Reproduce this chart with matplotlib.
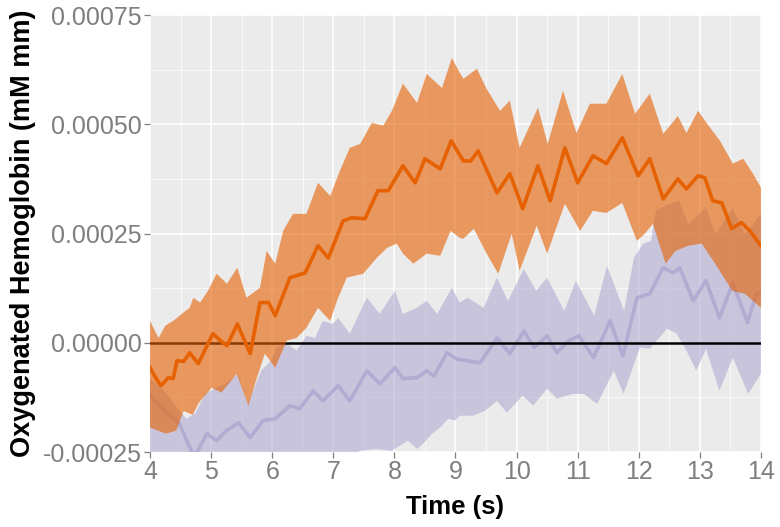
"""Oxygenated hemoglobin time course: two conditions, mean with ribbon."""

import numpy as np
import matplotlib
matplotlib.use("Agg")
import matplotlib.pyplot as plt
from matplotlib.ticker import MultipleLocator

# DATA

# orange condition: mean line
orange_t = [4.00, 4.10, 4.18, 4.30, 4.38, 4.44, 4.55, 4.65, 4.79, 5.03, 5.15,
            5.26, 5.43, 5.64, 5.80, 5.94, 6.05, 6.29, 6.54, 6.75, 6.92, 7.16,
            7.30, 7.52, 7.73, 7.90, 8.14, 8.34, 8.50, 8.75, 8.93, 9.13, 9.25,
            9.37, 9.68, 9.89, 10.10, 10.35, 10.55, 10.79, 11.00, 11.25, 11.47,
            11.73, 11.99, 12.18, 12.40, 12.64, 12.78, 12.97, 13.08, 13.21,
            13.36, 13.52, 13.68, 13.82, 14.00]
orange_mean = [-0.000057, -0.000082, -0.000098, -0.000080, -0.000082,
               -0.000041, -0.000043, -0.000023, -0.000048, 0.000021, 0.000005,
               -0.000007, 0.000043, -0.000025, 0.000092, 0.000092, 0.000062,
               0.000149, 0.000160, 0.000222, 0.000194, 0.000279, 0.000286,
               0.000284, 0.000348, 0.000348, 0.000405, 0.000366, 0.000421,
               0.000398, 0.000462, 0.000416, 0.000416, 0.000439, 0.000343,
               0.000387, 0.000307, 0.000405, 0.000325, 0.000446, 0.000366,
               0.000428, 0.000410, 0.000469, 0.000382, 0.000421, 0.000329,
               0.000375, 0.000352, 0.000382, 0.000378, 0.000325, 0.000320,
               0.000261, 0.000275, 0.000256, 0.000222]

# orange condition: ribbon upper edge
orange_up_t = [4.00, 4.14, 4.25, 4.38, 4.52, 4.65, 4.71, 4.82, 4.95, 5.09, 5.26,
               5.43, 5.58, 5.80, 5.91, 6.05, 6.18, 6.34, 6.56, 6.75, 6.95, 7.11,
               7.27, 7.44, 7.63, 7.82, 7.96, 8.14, 8.37, 8.53, 8.78, 8.94, 9.07,
               9.13, 9.35, 9.51, 9.73, 9.89, 10.05, 10.35, 10.51, 10.76, 10.98,
               11.20, 11.47, 11.73, 11.94, 12.18, 12.40, 12.64, 12.78, 12.97,
               13.12, 13.33, 13.54, 13.71, 13.87, 14.00]
orange_up = [0.000050, 0.000011, 0.000039, 0.000050, 0.000066, 0.000080,
             0.000103, 0.000092, 0.000119, 0.000158, 0.000135, 0.000172,
             0.000103, 0.000126, 0.000210, 0.000181, 0.000256, 0.000295,
             0.000295, 0.000366, 0.000336, 0.000394, 0.000446, 0.000455,
             0.000503, 0.000497, 0.000531, 0.000593, 0.000549, 0.000615,
             0.000583, 0.000652, 0.000618, 0.000604, 0.000627, 0.000581,
             0.000531, 0.000554, 0.000446, 0.000538, 0.000455, 0.000577,
             0.000480, 0.000547, 0.000547, 0.000615, 0.000524, 0.000570,
             0.000478, 0.000519, 0.000480, 0.000531, 0.000501, 0.000462,
             0.000410, 0.000421, 0.000387, 0.000355]

# orange condition: ribbon lower edge
orange_lo_t = [4.00, 4.26, 4.43, 4.55, 4.70, 4.80, 5.01, 5.17, 5.42, 5.61, 5.75,
               5.88, 6.05, 6.24, 6.40, 6.56, 6.75, 6.95, 7.06, 7.22, 7.49, 7.71,
               7.88, 8.04, 8.14, 8.31, 8.53, 8.75, 8.92, 9.07, 9.13, 9.30, 9.51,
               9.70, 9.92, 10.05, 10.33, 10.50, 10.79, 11.04, 11.25, 11.47,
               11.73, 11.97, 12.10, 12.23, 12.44, 12.60, 12.81, 13.03, 13.25,
               13.53, 13.74, 14.00]
orange_lo = [-0.000194, -0.000208, -0.000201, -0.000156, -0.000165, -0.000137,
             -0.000103, -0.000114, -0.000071, -0.000144, -0.000080, -0.000025,
             -0.000057, 0.000005, 0.000011, 0.000034, 0.000080, 0.000050,
             0.000096, 0.000149, 0.000158, 0.000194, 0.000217, 0.000227,
             0.000204, 0.000181, 0.000204, 0.000199, 0.000256, 0.000240,
             0.000238, 0.000261, 0.000204, 0.000158, 0.000249, 0.000165,
             0.000268, 0.000204, 0.000318, 0.000256, 0.000302, 0.000297,
             0.000320, 0.000233, 0.000250, 0.000272, 0.000181, 0.000210,
             0.000222, 0.000227, 0.000181, 0.000119, 0.000112, 0.000080]

# purple condition: mean line
purple_t = [4.00, 4.25, 4.48, 4.60, 4.72, 4.80, 4.93, 5.09, 5.25, 5.45, 5.64,
            5.85, 6.05, 6.29, 6.45, 6.67, 6.83, 7.08, 7.27, 7.55, 7.76, 8.01,
            8.14, 8.37, 8.53, 8.65, 8.86, 9.02, 9.18, 9.40, 9.68, 9.89, 10.12,
            10.29, 10.50, 10.66, 10.85, 11.02, 11.26, 11.53, 11.74, 11.97,
            12.18, 12.40, 12.56, 12.67, 12.89, 13.10, 13.32, 13.54, 13.78,
            13.92, 14.00]
purple_mean = [-0.000121, -0.000156, -0.000185, -0.000224, -0.000259,
               -0.000243, -0.000208, -0.000224, -0.000201, -0.000183,
               -0.000217, -0.000178, -0.000174, -0.000144, -0.000151,
               -0.000110, -0.000133, -0.000098, -0.000133, -0.000064,
               -0.000094, -0.000057, -0.000082, -0.000080, -0.000064,
               -0.000076, -0.000023, -0.000037, -0.000041, -0.000046,
               0.000011, -0.000025, 0.000027, -0.000011, 0.000016, -0.000023,
               0.000005, 0.000016, -0.000034, 0.000050, -0.000030, 0.000103,
               0.000112, 0.000172, 0.000160, 0.000172, 0.000096, 0.000142,
               0.000057, 0.000137, 0.000046, 0.000112, 0.000114]

# purple condition: ribbon upper edge
purple_up_t = [4.00, 4.15, 4.30, 4.45, 4.60, 4.75, 4.90, 5.05, 5.23, 5.44, 5.60,
               5.82, 5.98, 6.07, 6.24, 6.40, 6.56, 6.70, 6.83, 6.99, 7.08, 7.27,
               7.55, 7.76, 8.01, 8.14, 8.37, 8.53, 8.70, 8.94, 9.07, 9.20, 9.46,
               9.68, 9.86, 10.12, 10.32, 10.50, 10.78, 10.97, 11.27, 11.48,
               11.76, 11.92, 12.07, 12.20, 12.28, 12.50, 12.66, 12.81, 13.10,
               13.26, 13.53, 13.74, 14.00]
purple_up = [-0.000082, -0.000098, -0.000121, -0.000151, -0.000174, -0.000160,
             -0.000117, -0.000105, -0.000094, -0.000071, -0.000140, -0.000064,
             -0.000041, -0.000011, -0.000002, -0.000018, 0.000016, 0.000011,
             0.000050, 0.000043, 0.000057, 0.000021, 0.000103, 0.000066,
             0.000119, 0.000066, 0.000080, 0.000096, 0.000066, 0.000126,
             0.000092, 0.000103, 0.000080, 0.000149, 0.000096, 0.000169,
             0.000119, 0.000149, 0.000073, 0.000142, 0.000062, 0.000176,
             0.000073, 0.000194, 0.000227, 0.000233, 0.000302, 0.000318,
             0.000325, 0.000272, 0.000309, 0.000249, 0.000309, 0.000249,
             0.000295]

# purple condition: ribbon lower edge (runs below the axis at the start)
purple_lo_t = [4.00, 4.50, 5.50, 6.50, 7.20, 7.44, 7.70, 7.96, 8.22, 8.37, 8.47,
               8.62, 8.75, 8.88, 8.99, 9.07, 9.29, 9.48, 9.68, 9.84, 10.10,
               10.27, 10.50, 10.66, 10.92, 11.10, 11.32, 11.59, 11.75, 12.02,
               12.18, 12.46, 12.62, 12.78, 12.94, 13.10, 13.32, 13.54, 13.79,
               14.00]
purple_lo = [-0.000293, -0.000339, -0.000316, -0.000293, -0.000265, -0.000247,
             -0.000243, -0.000247, -0.000224, -0.000243, -0.000231, -0.000208,
             -0.000194, -0.000174, -0.000178, -0.000167, -0.000167, -0.000156,
             -0.000133, -0.000160, -0.000121, -0.000144, -0.000105, -0.000128,
             -0.000117, -0.000117, -0.000140, -0.000064, -0.000117, -0.000011,
             -0.000014, 0.000032, 0.000021, -0.000018, -0.000064, -0.000014,
             -0.000110, -0.000034, -0.000117, -0.000071]

x_ticks = [4, 5, 6, 7, 8, 9, 10, 11, 12, 13, 14]
y_ticks = [-0.00025, 0.0, 0.00025, 0.0005, 0.00075]
y_tick_labels = ["-0.00025", "0.00000", "0.00025", "0.00050", "0.00075"]

ORANGE = "#E66101"
PURPLE = "#B2ABD2"
PANEL_BG = "#EBEBEB"
TICK_GREY = "#7F7F7F"


def ribbon(ax, t_up, up, t_lo, lo, color, alpha, zorder):
    """Fill the band between an upper and a lower edge sampled at own times"""
    xs = np.concatenate([t_up, t_lo[::-1]])
    ys = np.concatenate([up, lo[::-1]])
    ax.fill(xs, ys, color=color, alpha=alpha, lw=0, zorder=zorder)


def main():
    plt.rcParams["font.family"] = ["Liberation Sans", "DejaVu Sans"]
    fig = plt.figure(figsize=(7.8, 5.27), dpi=100)
    ax = fig.add_axes([0.1923, 0.1423, 0.7833, 0.8292])
    ax.set_facecolor(PANEL_BG)

    ribbon(ax, np.array(purple_up_t), np.array(purple_up),
           np.array(purple_lo_t), np.array(purple_lo), PURPLE, 0.6, 2)
    ax.plot(purple_t, purple_mean, color=PURPLE, lw=2.6, zorder=3,
            solid_joinstyle="round")
    ax.axhline(0, color="black", lw=1.8, zorder=4)
    ribbon(ax, np.array(orange_up_t), np.array(orange_up),
           np.array(orange_lo_t), np.array(orange_lo), ORANGE, 0.6, 5)
    ax.plot(orange_t, orange_mean, color=ORANGE, lw=2.6, zorder=6,
            solid_joinstyle="round")

    ax.set_xlim(4, 14)
    ax.set_ylim(-0.00025, 0.00075)
    ax.set_xticks(x_ticks)
    ax.set_yticks(y_ticks)
    ax.set_yticklabels(y_tick_labels)
    ax.xaxis.set_minor_locator(MultipleLocator(0.5))
    ax.yaxis.set_minor_locator(MultipleLocator(0.000125))

    ax.grid(which="major", color="white", lw=1.2, zorder=0)
    ax.grid(which="minor", color="white", lw=0.5, zorder=0)
    ax.set_axisbelow(True)
    for side in ax.spines.values():
        side.set_visible(False)

    ax.tick_params(which="major", length=4, width=0.9, color=TICK_GREY,
                   labelcolor=TICK_GREY, labelsize=18, pad=2)
    ax.tick_params(which="minor", length=0)

    ax.set_xlabel("Time (s)", fontsize=18.5, fontweight="bold", labelpad=8)
    ax.set_ylabel("Oxygenated Hemoglobin (mM mm)", fontsize=19.5,
                  fontweight="bold", labelpad=5)

    fig.savefig("out.png", dpi=100)
    plt.close(fig)


if __name__ == "__main__":
    main()
